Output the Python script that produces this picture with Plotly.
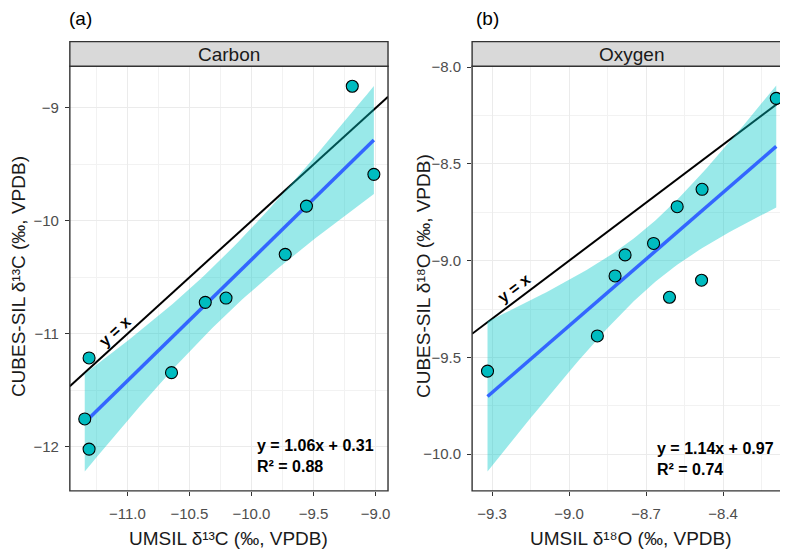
import numpy as np
import plotly.graph_objects as go

# ---- data ----
c_umsil = [-9.188, -9.014, -9.557, -9.728, -10.372, -10.205, -10.644, -11.308, -11.343, -11.308]
c_cubes = [-8.808, -9.588, -9.869, -10.296, -10.721, -10.683, -11.343, -11.213, -11.753, -12.020]
o_umsil = [-8.193, -8.482, -8.579, -8.671, -8.782, -8.821, -8.484, -8.609, -8.890, -9.318]
o_cubes = [-8.161, -8.631, -8.721, -8.911, -8.970, -9.079, -9.101, -9.189, -9.389, -9.571]
panel_titles = ["Carbon", "Oxygen"]
panel_tags = ["(a)", "(b)"]
eq_texts = ["<b>y = 1.06x + 0.31<br>R² = 0.88</b>", "<b>y = 1.14x + 0.97<br>R² = 0.74</b>"]
x_titles = ["UMSIL δ¹³C (‰, VPDB)", "UMSIL δ¹⁸O (‰, VPDB)"]
y_titles = ["CUBES-SIL δ¹³C (‰, VPDB)", "CUBES-SIL δ¹⁸O (‰, VPDB)"]
T_CRIT = 2.306  # t(0.975, df=8)

# page offset of the plot div inside the browser window
OX, OY = 8, 15
W, H = 788 - OX, 560 - OY
FONT = "Liberation Sans, Arial, sans-serif"

def px(xp):
    return (xp - OX) / W

def py(yp):
    return 1 - (yp - OY) / H

# panel geometry (window pixels)
panels = [
    dict(x0=70, x1=389, xr=[-11.463, -8.90], yr=[-12.39, -8.631],
         xdt=0.5, ydt=1, xfmt=".1f", yfmt="d"),
    dict(x0=473.3, x1=788, xr=[-9.378, -8.155], yr=[-10.19, -7.995],
         xdt=0.3, ydt=0.5, xfmt=".1f", yfmt=".1f"),
]
top, bot, strip_top = 66, 497, 41

fig = go.Figure()
datasets = [(c_umsil, c_cubes), (o_umsil, o_cubes)]
lab_pos = [(-11.102, -10.98, -42.6), (-9.216, -9.143, -37.4)]
eq_pos = [(-9.973, 440), (-8.665, 443)]

shapes = []
annotations = []
for i, ((xs, ys), p) in enumerate(zip(datasets, panels)):
    xa = "x" if i == 0 else "x2"
    ya = "y" if i == 0 else "y2"
    x = np.array(xs)
    y = np.array(ys)
    n = len(x)
    b, a = np.polyfit(x, y, 1)
    xg = np.linspace(x.min(), x.max(), 80)
    yhat = a + b * xg
    resid = y - (a + b * x)
    s = np.sqrt(np.sum(resid ** 2) / (n - 2))
    sxx = np.sum((x - x.mean()) ** 2)
    se = s * np.sqrt(1 / n + (xg - x.mean()) ** 2 / sxx)
    lo, hi = yhat - T_CRIT * se, yhat + T_CRIT * se

    # 1:1 line
    fig.add_trace(go.Scatter(x=p["xr"], y=p["xr"], mode="lines",
                             line=dict(color="black", width=2),
                             xaxis=xa, yaxis=ya, hoverinfo="skip"))
    # CI band
    fig.add_trace(go.Scatter(x=np.concatenate([xg, xg[::-1]]),
                             y=np.concatenate([hi, lo[::-1]]),
                             fill="toself", fillcolor="rgba(0,200,200,0.4)",
                             line=dict(width=0), mode="lines",
                             xaxis=xa, yaxis=ya, hoverinfo="skip"))
    # fit line
    fig.add_trace(go.Scatter(x=xg, y=yhat, mode="lines",
                             line=dict(color="#3366FF", width=3.5),
                             xaxis=xa, yaxis=ya))
    # points
    fig.add_trace(go.Scatter(x=x, y=y, mode="markers",
                             marker=dict(size=12, color="#00BCC0",
                                         line=dict(color="black", width=1.1)),
                             xaxis=xa, yaxis=ya))

    axkw = dict(showline=False, zeroline=False, ticks="outside", ticklen=4,
                tickcolor="#333333", tickwidth=1,
                tickfont=dict(family=FONT, size=15, color="#4d4d4d"),
                showgrid=True, gridcolor="#EBEBEB", gridwidth=1)
    xkey = "xaxis" if i == 0 else "xaxis2"
    ykey = "yaxis" if i == 0 else "yaxis2"
    fig.update_layout(**{
        xkey: dict(axkw, domain=[px(p["x0"]), min(px(p["x1"]), 1)], range=p["xr"],
                   anchor=ya, dtick=p["xdt"], tick0=0, tickformat=p["xfmt"],
                   ticklabelstandoff=5,
                   minor=dict(dtick=p["xdt"] / 2, showgrid=True,
                              gridcolor="#F2F2F2", gridwidth=0.8, ticks="")),
        ykey: dict(axkw, domain=[py(bot), py(top)], range=p["yr"],
                   anchor=xa, dtick=p["ydt"], tick0=0, tickformat=p["yfmt"],
                   ticklabelstandoff=3,
                   minor=dict(dtick=p["ydt"] / 2, showgrid=True,
                              gridcolor="#F2F2F2", gridwidth=0.8, ticks="")),
    })

    xr_edge = p["x1"] if i == 0 else 795
    # panel border
    shapes.append(dict(type="rect", xref="paper", yref="paper",
                       x0=px(p["x0"]), x1=px(xr_edge),
                       y0=py(bot), y1=py(top),
                       line=dict(color="#333333", width=1.4), fillcolor="rgba(0,0,0,0)",
                       layer="above"))
    # strip
    shapes.append(dict(type="rect", xref="paper", yref="paper",
                       x0=px(p["x0"]), x1=px(xr_edge),
                       y0=py(top), y1=py(strip_top),
                       line=dict(color="#333333", width=1.4), fillcolor="#D9D9D9",
                       layer="above"))
    strip_c = (p["x0"] + (p["x1"] if i == 0 else 792)) / 2
    annotations.append(dict(xref="paper", yref="paper",
                            x=px(strip_c), y=py((top + strip_top) / 2 + 1),
                            text=panel_titles[i],
                            showarrow=False, xanchor="center", yanchor="middle",
                            font=dict(family=FONT, size=19, color="#1a1a1a")))
    # panel tag
    annotations.append(dict(xref="paper", yref="paper",
                            x=px(p["x0"] - 3 if i == 0 else p["x0"] + 2), y=py(18),
                            text=panel_tags[i], showarrow=False,
                            xanchor="left", yanchor="middle",
                            font=dict(family=FONT, size=19, color="black")))
    # y = x label
    lx, ly, ang = lab_pos[i]
    annotations.append(dict(xref=xa, yref=ya, x=lx, y=ly, text="<b>y = x</b>",
                            showarrow=False, textangle=ang,
                            font=dict(family=FONT, size=16, color="black")))
    # equation
    ex, ey = eq_pos[i]
    annotations.append(dict(xref=xa, yref="paper", x=ex, y=py(ey), text=eq_texts[i],
                            showarrow=False, xanchor="left", yanchor="top", align="left",
                            font=dict(family=FONT, size=16, color="black")))
    # axis titles
    annotations.append(dict(xref="paper", yref="paper", x=px(strip_c), y=py(545),
                            text=x_titles[i], showarrow=False,
                            xanchor="center", yanchor="middle",
                            font=dict(family=FONT, size=19, color="#1a1a1a")))
    annotations.append(dict(xref="paper", yref="paper",
                            x=px(18 if i == 0 else 424), y=py(279),
                            text=y_titles[i], showarrow=False, textangle=-90,
                            xanchor="center", yanchor="middle",
                            font=dict(family=FONT, size=19, color="#1a1a1a")))

fig.update_layout(width=W, height=H, margin=dict(l=0, r=0, t=0, b=0),
                  paper_bgcolor="white", plot_bgcolor="white",
                  showlegend=False, shapes=shapes, annotations=annotations)

fig.write_html("out.html")
